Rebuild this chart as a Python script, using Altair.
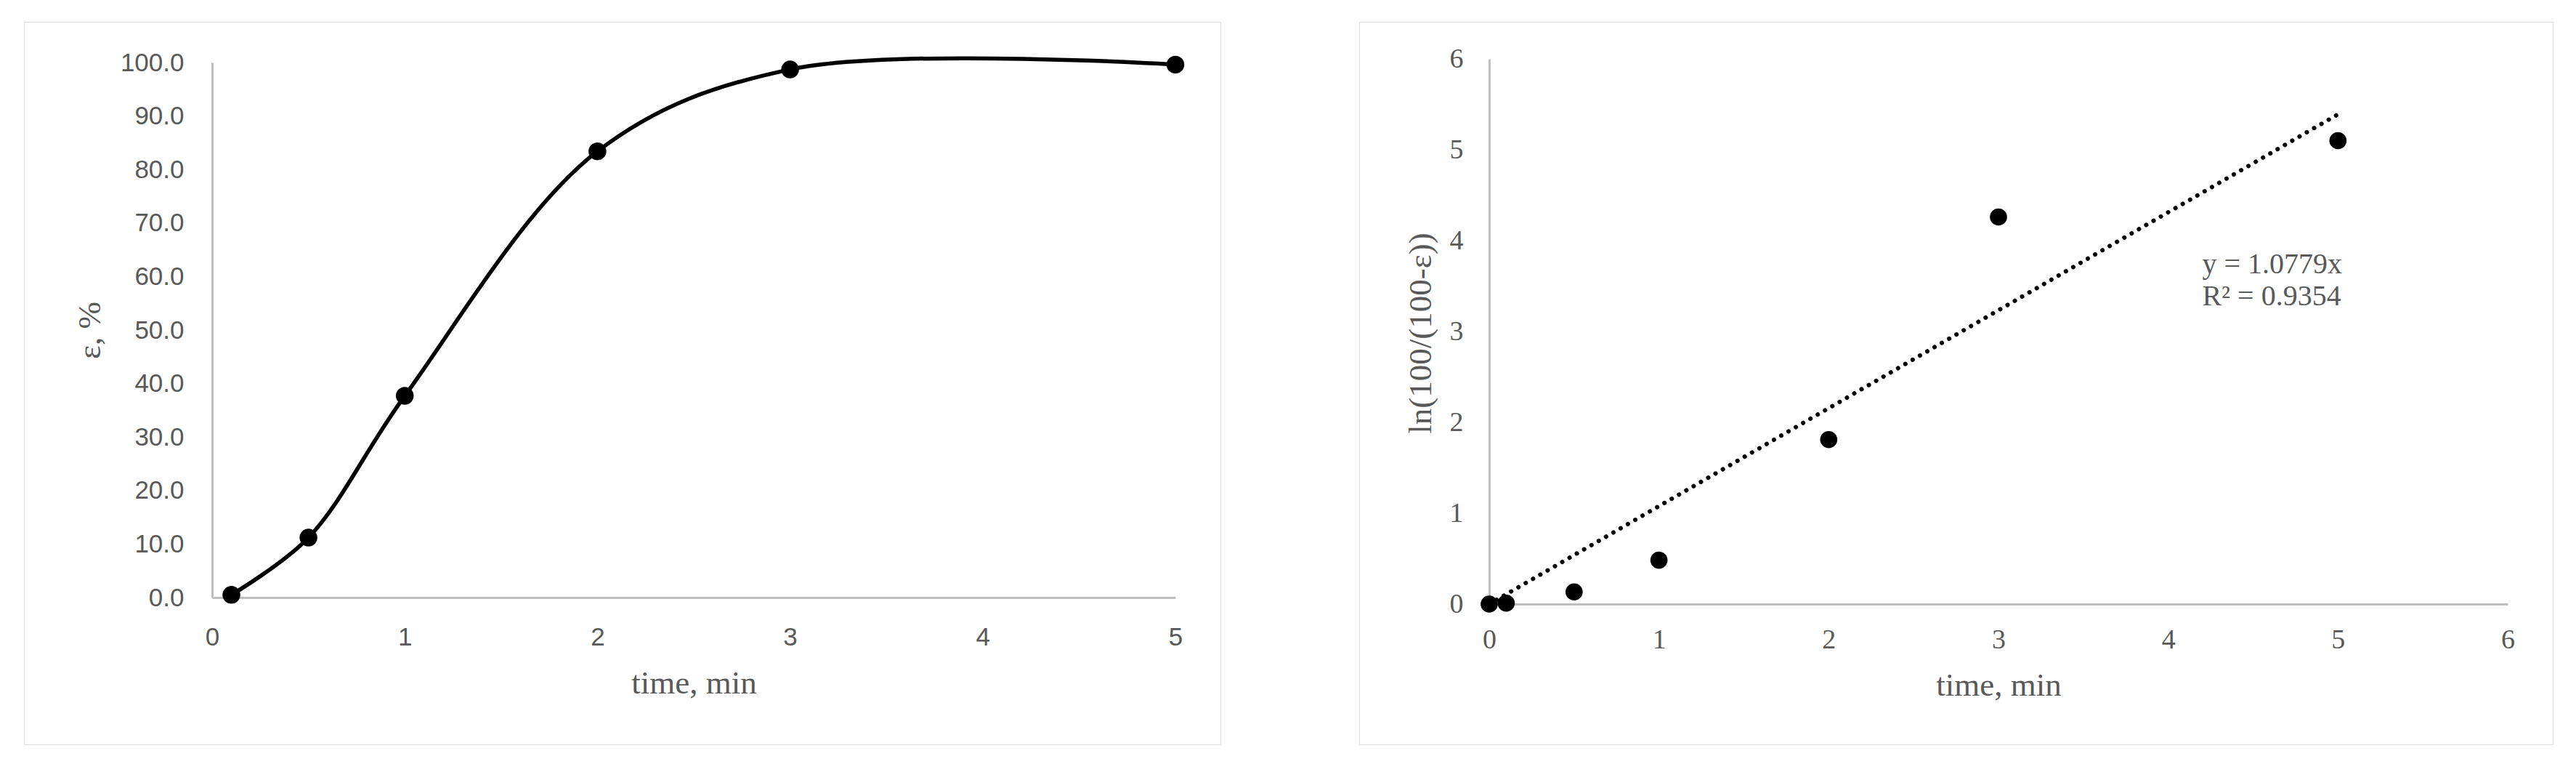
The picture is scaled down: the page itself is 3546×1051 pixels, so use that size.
import altair as alt
import pandas as pd

# ---- left chart data: conversion vs time ----
left_time = [0.1, 0.5, 1, 2, 3, 5]
left_eps = [0.5, 11.2, 37.7, 83.4, 98.7, 99.6]
left_xticks = [0, 1, 2, 3, 4, 5]
left_yticks = [0, 10, 20, 30, 40, 50, 60, 70, 80, 90, 100]

# ---- right chart data: ln(100/(100-eps)) vs time ----
right_time = [0, 0.1, 0.5, 1, 2, 3, 5]
right_ln = [0.0, 0.01, 0.134, 0.483, 1.81, 4.26, 5.10]
right_xticks = [0, 1, 2, 3, 4, 5, 6]
right_yticks = [0, 1, 2, 3, 4, 5, 6]

# linear trendline through origin (Excel): y = 1.0779x, drawn 0..5
trend_time = [0, 5]
trend_ln = [0, 5.39]

eq_text = ["y = 1.0779x", "R\u00b2 = 0.9354"]
eq_anchor_x = [4.2]
eq_anchor_y = [3.74]

GRAY = "#595959"
AXIS = "#bfbfbf"
SERIF = "Liberation Serif"
SANS = "Liberation Sans"

left_df = pd.DataFrame({"t": left_time, "e": left_eps})
right_df = pd.DataFrame({"t": right_time, "v": right_ln})
trend_df = pd.DataFrame({"t": trend_time, "v": trend_ln})
eq_df = pd.DataFrame({"t": eq_anchor_x, "v": eq_anchor_y})

common_axis = dict(
    domainColor=AXIS, domainWidth=3, ticks=False, tickSize=0, grid=False,
    labelColor=GRAY, titleColor=GRAY, titleFont=SERIF, titleFontSize=45,
    titleFontWeight="normal", labelFlush=False, labelOverlap=False,
    labelBound=False, titleAlign="center", titleBaseline="middle",
)

# ---------------- left panel ----------------
W1, H1 = 1647, 994
lx = alt.X(
    "t:Q",
    scale=alt.Scale(domain=[0, 5], range=[259, 1585], nice=False, zero=False),
    axis=alt.Axis(values=left_xticks, format="d", title="time, min",
                  offset=-(H1 - 792), labelFont=SANS, labelFontSize=35,
                  labelPadding=37, titleX=922, titleY=117, **common_axis),
)
ly = alt.Y(
    "e:Q",
    scale=alt.Scale(domain=[0, 100], range=[792, 56], nice=False, zero=False),
    axis=alt.Axis(values=left_yticks, format=".1f", title="\u03b5, %",
                  offset=-259, labelFont=SANS, labelFontSize=35,
                  labelPadding=39, titleX=-169, titleY=424, titleAngle=270,
                  **common_axis),
)
left_line = alt.Chart(left_df).mark_line(
    interpolate="catmull-rom", color="black", strokeWidth=5.5
).encode(x=lx, y=ly)
left_pts = alt.Chart(left_df).mark_circle(
    size=600, color="black", opacity=1
).encode(x=lx, y=ly)
left = alt.layer(left_line, left_pts).properties(width=W1, height=H1)

# ---------------- right panel ----------------
W2, H2 = 1643, 994
rx = alt.X(
    "t:Q",
    scale=alt.Scale(domain=[0, 6], range=[179, 1581], nice=False, zero=False),
    axis=alt.Axis(values=right_xticks, format="d", title="time, min",
                  offset=-(H2 - 801), labelFont=SERIF, labelFontSize=38,
                  labelPadding=30, titleX=880, titleY=111, **common_axis),
)
ry = alt.Y(
    "v:Q",
    scale=alt.Scale(domain=[0, 6], range=[801, 51], nice=False, zero=False),
    axis=alt.Axis(values=right_yticks, format="d",
                  title="ln(100/(100-\u03b5))",
                  offset=-179, labelFont=SERIF, labelFontSize=38,
                  labelPadding=36, titleX=-95, titleY=428, titleAngle=270,
                  **common_axis),
)
trend = alt.Chart(trend_df).mark_line(
    color="black", strokeWidth=6, strokeDash=[0.1, 11.5], strokeCap="round"
).encode(x=rx, y=ry)
right_pts = alt.Chart(right_df).mark_circle(
    size=560, color="black", opacity=1
).encode(x=rx, y=ry)
eq = alt.Chart(eq_df).mark_text(
    align="left", baseline="middle", font=SERIF, fontSize=40, color=GRAY,
    lineHeight=44
).encode(x=rx, y=ry, text=alt.value(eq_text))
right = alt.layer(trend, right_pts, eq).properties(width=W2, height=H2)

chart = alt.hconcat(left, right, spacing=189).properties(
    padding={"left": 24, "top": 21, "right": 5, "bottom": 5}
).configure_view(
    stroke="#d9d9d9", strokeWidth=3, fill="white"
).configure(background="white")

chart.save("out.html", embed_options={"renderer": "svg", "actions": False})
